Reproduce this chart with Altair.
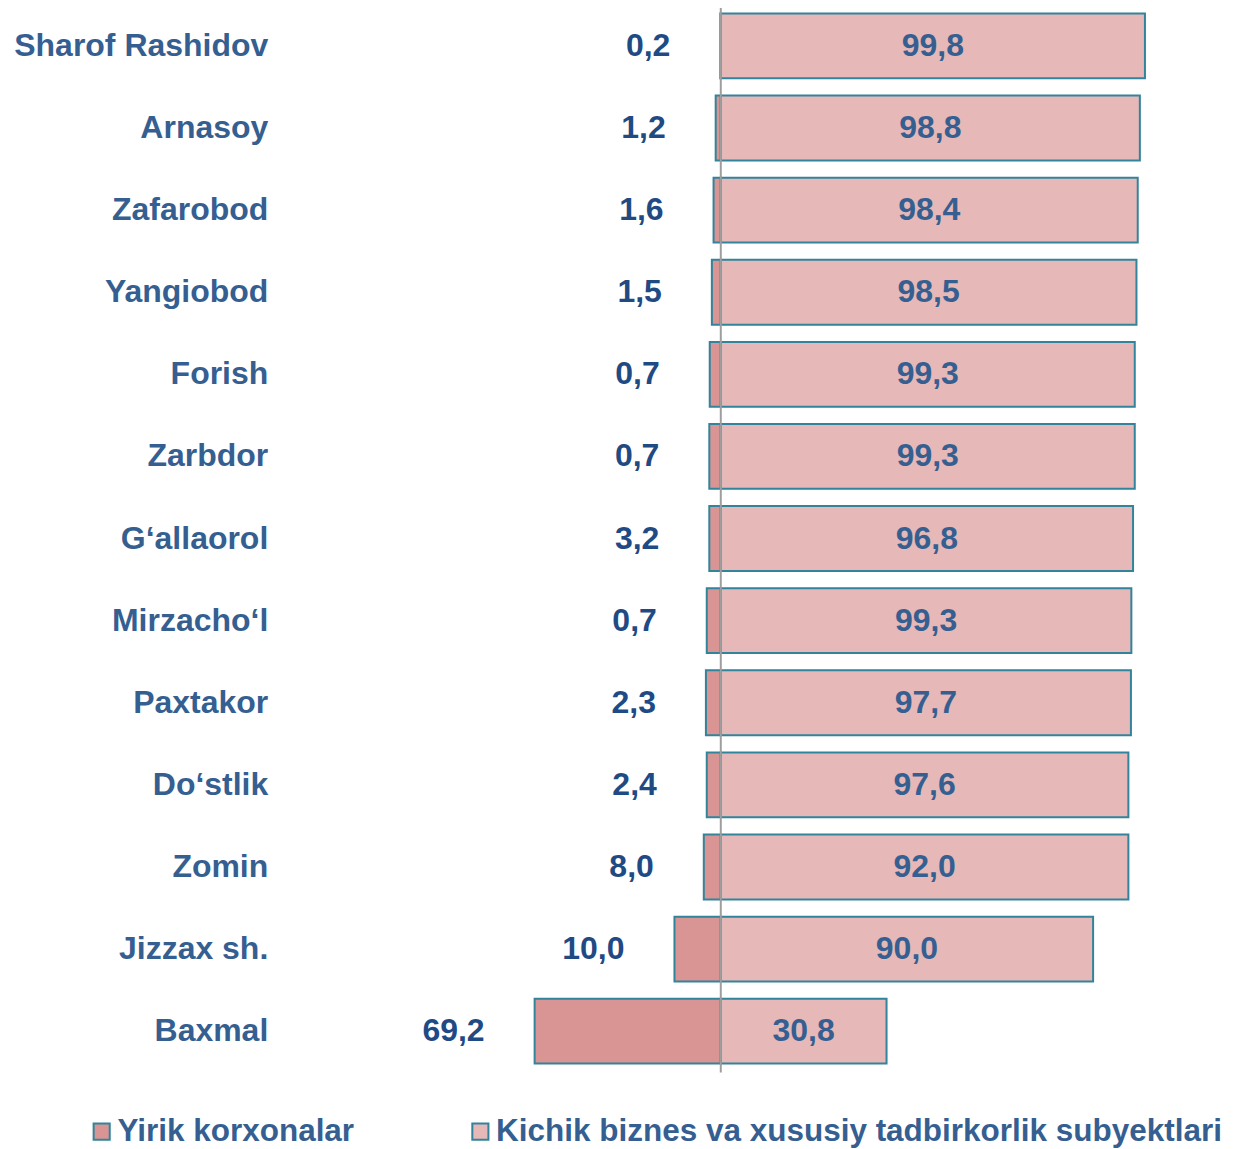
import altair as alt
import pandas as pd

# Districts (top to bottom)
districts = ["Sharof Rashidov", "Arnasoy", "Zafarobod", "Yangiobod", "Forish", "Zarbdor",
             "G‘allaorol", "Mirzacho‘l", "Paxtakor", "Do‘stlik", "Zomin", "Jizzax sh.", "Baxmal"]

# Printed shares, %
large_values = [0.2, 1.2, 1.6, 1.5, 0.7, 0.7, 3.2, 0.7, 2.3, 2.4, 8.0, 10.0, 69.2]
small_values = [99.8, 98.8, 98.4, 98.5, 99.3, 99.3, 96.8, 99.3, 97.7, 97.6, 92.0, 90.0, 30.8]

# Bar lengths as drawn in the reference (they do not follow the printed values)
large_bar = [0.1, 1.2, 1.7, 2.1, 2.6, 2.7, 2.7, 3.3, 3.5, 3.3, 4.0, 10.9, 43.8]
small_bar = [99.8, 98.6, 98.1, 97.8, 97.4, 97.4, 97.0, 96.6, 96.5, 95.9, 95.9, 87.6, 39.0]

series = ["Yirik korxonalar", "Kichik biznes va xususiy tadbirkorlik subyektlari"]
colors = ["#D99594", "#E6B8B7"]

rows = []
for d, lv, sv, lb, sb in zip(districts, large_values, small_values, large_bar, small_bar):
    rows.append({"district": d, "series": series[0], "start": -lb, "end": 0.0, "value": lv, "side": "left"})
    rows.append({"district": d, "series": series[1], "start": 0.0, "end": sb, "value": sv, "side": "right"})
df = pd.DataFrame(rows)

FONT = "Liberation Sans"
x_scale = alt.Scale(domain=[-100, 105], nice=False, zero=False)
y_enc = alt.Y("district:N", sort=districts,
              scale=alt.Scale(paddingInner=0.21, paddingOuter=0),
              axis=alt.Axis(title=None, domain=False, ticks=False, grid=False,
                            labelFontSize=32, labelFont=FONT, labelFontWeight="bold",
                            labelColor="#365F91", labelPadding=28, labelLimit=0))

base = alt.Chart(df)

bars = base.mark_bar(stroke="#31849B", strokeWidth=2).encode(
    x=alt.X("start:Q", scale=x_scale, axis=None),
    x2="end:Q",
    y=y_enc,
    color=alt.Color("series:N", scale=alt.Scale(domain=series, range=colors),
                    legend=alt.Legend(title=None, orient="none", direction="horizontal",
                                      legendX=-210, legendY=1103, padding=0,
                                      symbolType="square", symbolSize=260,
                                      symbolStrokeColor="#31849B", symbolStrokeWidth=2,
                                      symbolOpacity=1,
                                      labelFont=FONT, labelFontSize=31.5, labelFontWeight="bold",
                                      labelColor="#365F91", labelOffset=0, columnPadding=110,
                                      labelLimit=0)),
)

right_labels = base.transform_filter(alt.datum.side == "right").transform_calculate(
    mid="datum.end / 2",
    txt="replace(format(datum.value, '.1f'), '.', ',')",
).mark_text(font=FONT, fontSize=32, fontWeight="bold", color="#365F91", baseline="middle").encode(
    x=alt.X("mid:Q", scale=x_scale),
    y=alt.Y("district:N", sort=districts),
    text="txt:N",
)

left_labels = base.transform_filter(alt.datum.side == "left").transform_calculate(
    txt="replace(format(datum.value, '.1f'), '.', ',')",
).mark_text(font=FONT, fontSize=32, fontWeight="bold", color="#1F4A84", baseline="middle",
            align="right", dx=-50).encode(
    x=alt.X("start:Q", scale=x_scale),
    y=alt.Y("district:N", sort=districts),
    text="txt:N",
)

center = alt.Chart(pd.DataFrame({"x": [0]})).mark_rule(color="#9E9E9E", strokeWidth=2).encode(
    x=alt.X("x:Q", scale=x_scale),
    y=alt.value(-8),
    y2=alt.value(1060),
)

chart = alt.layer(bars, right_labels, left_labels, center).properties(
    width=872, height=1051,
    autosize=alt.AutoSizeParams(type="none"),
    padding={"left": 288, "top": 5, "right": 70, "bottom": 85},
    background="white",
).configure_view(stroke="transparent", strokeWidth=0)

chart.save("out.html", embed_options={"renderer": "svg", "actions": False})
